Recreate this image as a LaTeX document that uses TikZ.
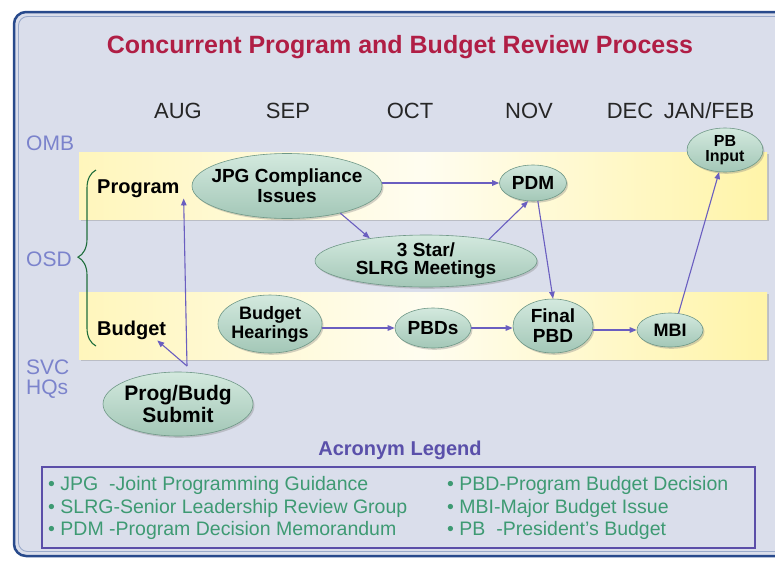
\documentclass[tikz,border=0pt]{standalone}
\usepackage{fontspec}
\setmainfont{Liberation Sans}
\usetikzlibrary{shapes.geometric,arrows.meta,shadows,decorations.pathreplacing}
\definecolor{bgc}{HTML}{DADEEB}
\definecolor{framec}{HTML}{284A8C}
\definecolor{frameinner}{HTML}{9AAACB}
\definecolor{titlec}{HTML}{B01E45}
\definecolor{sidec}{HTML}{7B83CC}
\definecolor{bandl}{HTML}{FFF6BC}
\definecolor{bandm}{HTML}{FFFDF0}
\definecolor{bandr}{HTML}{FFF4A8}
\definecolor{elltop}{HTML}{D3E9DE}
\definecolor{ellbot}{HTML}{A3C7B7}
\definecolor{ellline}{HTML}{6F9887}
\definecolor{arrowc}{HTML}{6A5EC0}
\definecolor{bracec}{HTML}{1F6E3C}
\definecolor{legtc}{HTML}{5A50AA}
\definecolor{legbox}{HTML}{5B4EA8}
\definecolor{legtext}{HTML}{3E9A73}
\newcommand\myfs[2]{\fontsize{#1}{#2}\selectfont}
\begin{document}
\begin{tikzpicture}[x=1pt,y=-1pt,
  ell/.style={ellipse, draw=ellline, line width=0.6pt, top color=elltop, bottom color=ellbot,
    inner sep=0pt, drop shadow={shadow xshift=1.5pt, shadow yshift=-1.8pt, opacity=0.35}},
  elltext/.style={align=center, inner sep=0pt, text=black},
  arr/.style={-{Triangle[length=7pt,width=5.5pt]}, draw=arrowc, line width=1.1pt},
  month/.style={anchor=base, inner sep=0pt, font=\myfs{22}{22}, text=black!85},
  side/.style={anchor=base west, inner sep=0pt, font=\myfs{21}{20}, text=sidec, align=left},
  rowlab/.style={anchor=base west, inner sep=0pt, font=\bfseries\myfs{20}{20}, text=black},
  band/.style={left color=bandl, right color=bandr, middle color=bandm,
    drop shadow={shadow xshift=1.5pt, shadow yshift=-2pt, opacity=0.35}},
  legline/.style={anchor=base west, inner sep=0pt, font=\myfs{19.5}{20}, text=legtext}
]
\useasboundingbox (0,0) rectangle (775,563);
\fill[white] (0,0) rectangle (775,563);
% frame
\draw[framec, line width=2.5pt, rounded corners=12pt, fill=bgc] (14,12) rectangle (812,556);
\draw[frameinner, line width=0.9pt, rounded corners=9pt] (18.5,16.5) rectangle (807,551.5);

% title
\node[anchor=base, inner sep=0pt, font=\bfseries\myfs{25}{25}, text=titlec] (title) at (400,53)
  {Concurrent Program and Budget Review Process};

% months
\node[month] (aug) at (178,118) {AUG};
\node[month] (sep) at (288,118) {SEP};
\node[month] (oct) at (410,118) {OCT};
\node[month] (nov) at (529,118) {NOV};
\node[month] (dec) at (630,118) {DEC};
\node[month] (janfeb) at (709,118) {JAN/FEB};

% side labels
\node[side] (omb) at (26,150) {OMB};
\node[side] (osd) at (26,266) {OSD};
\node[side] (svc) at (26,394) {SVC\\HQs};

% bands
\path[band] (79,152) rectangle (767,219);
\path[band] (79,292) rectangle (767,359);

% brace
\draw[bracec, line width=1.1pt, decorate, decoration={brace, amplitude=18pt, aspect=0.505}]
  (96,346) -- (96,170);

% row labels
\node[rowlab] (prog) at (97,193) {Program};
\node[rowlab] (budg) at (97,335) {Budget};

% ellipses
\node[ell, minimum width=190pt, minimum height=65pt] (jpg) at (287,186) {};
\node[elltext, font=\bfseries\myfs{19}{20}] (jpgT) at (jpg.center) {JPG Compliance\\Issues};
\node[ell, minimum width=67pt, minimum height=36pt] (pdm) at (533,183) {};
\node[elltext, font=\bfseries\myfs{19}{19}] (pdmT) at (pdm.center) {PDM};
\node[ell, minimum width=76pt, minimum height=44pt] (pbi) at (725,150) {};
\node[elltext, font=\bfseries\myfs{16}{14.5}] (pbiT) at (pbi.center) {PB\\Input};
\node[ell, minimum width=222pt, minimum height=52pt] (star) at (426,261) {};
\node[elltext, font=\bfseries\myfs{19}{18}] (starT) at (star.center) {3 Star/\\SLRG Meetings};
\node[ell, minimum width=104pt, minimum height=58pt] (bh) at (270,324) {};
\node[elltext, font=\bfseries\myfs{18}{19}] (bhT) at (bh.center) {Budget\\Hearings};
\node[ell, minimum width=76pt, minimum height=40pt] (pbds) at (433,328) {};
\node[elltext, font=\bfseries\myfs{19}{19}] (pbdsT) at (pbds.center) {PBDs};
\node[ell, minimum width=80pt, minimum height=54pt] (final) at (553,326) {};
\node[elltext, font=\bfseries\myfs{19}{20}] (finalT) at (final.center) {Final\\PBD};
\node[ell, minimum width=66pt, minimum height=34pt] (mbi) at (670,330) {};
\node[elltext, font=\bfseries\myfs{18}{18}] (mbiT) at (mbi.center) {MBI};
\node[ell, minimum width=150pt, minimum height=64pt] (submit) at (178,404) {};
\node[elltext, font=\bfseries\myfs{21}{22}] (submitT) at (submit.center) {Prog/Budg\\Submit};

% connectors
\draw[arr] (jpg.east |- pdm.west) -- (pdm.west);
\draw[arr] (jpg.-27) -- (star.158);
\draw[arr] (star.19) -- (pdm.-105);
\draw[arr] (pdm.-75) -- (final.north);
\draw[arr] (bh.east |- pbds.west) -- (pbds.west);
\draw[arr] (pbds.east) -- (final.west |- pbds.east);
\draw[arr] (final.east |- mbi.west) -- (mbi.west);
\draw[arr] (mbi.63) -- (pbi.-105);
\coordinate (j) at (187,366);
\draw[arr] (j) -- ([xshift=4pt,yshift=-1pt]prog.south east);
\draw[arr] (j) -- ([xshift=-9pt,yshift=-1pt]budg.south east);

% legend
\node[anchor=base, inner sep=0pt, font=\bfseries\myfs{20}{20}, text=legtc] (legT) at (400,455) {Acronym Legend};
\draw[legbox, line width=2pt] (42,467) rectangle (755,548);
\node[legline] (l1) at (48,490) {•\ JPG\ \ -Joint Programming Guidance};
\node[legline] (l2) at (48,513) {•\ SLRG-Senior Leadership Review Group};
\node[legline] (l3) at (48,535) {•\ PDM -Program Decision Memorandum};
\node[legline] (r1) at (447,490) {•\ PBD-Program Budget Decision};
\node[legline] (r2) at (447,513) {•\ MBI-Major Budget Issue};
\node[legline] (r3) at (447,535) {•\ PB\ \ -President’s Budget};
\end{tikzpicture}
\end{document}
